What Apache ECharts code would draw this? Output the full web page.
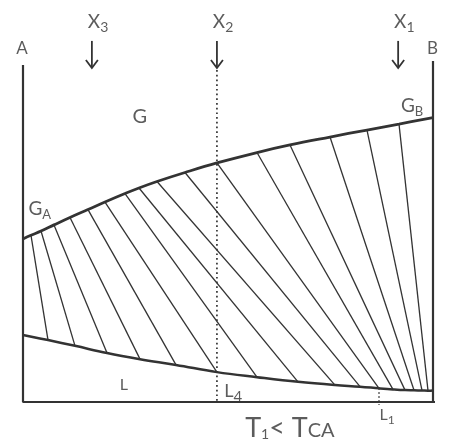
<!DOCTYPE html>
<html>
<head>
<meta charset="utf-8">
<script src="https://cdn.jsdelivr.net/npm/echarts@6/dist/echarts.min.js"></script>
<style>
  html, body { margin: 0; padding: 0; background: #fff; }
  #chart { width: 449px; height: 444px; }
</style>
</head>
<body>
<div id="chart"></div>
<script>
// Isothermal binary phase diagram (T1 < TcA): gas curve G, liquid curve L, tie lines.
// x: composition from pure A (0) to pure B (100); y: pressure (arbitrary units).

// Gas (dew) curve: end at A, tie-line endpoints, end at B
const gasX = [0, 1.95, 4.39, 7.56, 11.46, 15.85, 20.0, 24.88, 28.29, 32.68, 39.51, 47.3, 57.07, 65.12, 74.88, 83.9, 91.71, 100];
const gasY = [45.3, 46.3, 47.5, 49.2, 51.25, 53.45, 55.55, 57.9, 59.45, 61.25, 63.75, 66.4, 69.3, 71.4, 73.6, 75.55, 77.2, 79.0];

// Liquid (bubble) curve: end at A, tie-line endpoints, end at B
const liqX = [0, 6.10, 12.68, 20.49, 28.54, 37.32, 47.3, 57.07, 67.07, 76.10, 82.2, 86.83, 90.24, 93.17, 95.37, 97.32, 98.78, 100];
const liqY = [18.6, 17.2, 15.6, 13.6, 11.9, 10.3, 8.3, 6.9, 5.6, 4.7, 4.25, 3.8, 3.5, 3.3, 3.25, 3.2, 3.15, 3.2];

// Overall compositions marked with arrows
const markNames = ['X3', 'X2', 'X1'];
const markX = [16.8, 47.3, 91.5];

// Liquid composition L1
const l1X = 86.83;
const l1Y = 3.8;

const INK = '#333333';
const FONT = 'Lato, "Open Sans", sans-serif';

const gasData = gasX.map((x, i) => [x, gasY[i]]);
const liqData = liqX.map((x, i) => [x, liqY[i]]);
// tie lines join matching interior points of both curves
const tieData = [];
for (let i = 1; i < gasX.length - 1; i++) {
  tieData.push({ coords: [[gasX[i], gasY[i]], [liqX[i], liqY[i]]] });
}

function sub(main, s, mainSize, subSize) {
  return {
    formatter: '{m|' + main + '}{s|' + s + '}',
    rich: {
      m: { fontSize: mainSize, fontFamily: FONT, color: INK, lineHeight: mainSize + 2 },
      s: { fontSize: subSize, fontFamily: FONT, color: INK, padding: [Math.round(mainSize * 0.6), 0, 0, 0] }
    }
  };
}

function textPoint(x, y, label) {
  return {
    value: [x, y],
    label: Object.assign({ show: true, position: 'inside' }, label)
  };
}

const labels = [
  textPoint(-0.24, 98.3, { formatter: 'A', fontSize: 17, fontFamily: FONT, color: INK }),
  textPoint(99.9, 98.3, { formatter: 'B', fontSize: 17, fontFamily: FONT, color: INK }),
  textPoint(28.5, 79.2, { formatter: 'G', fontSize: 20, fontFamily: FONT, color: INK }),
  textPoint(94.9, 82.2, sub('G', 'B', 19, 13)),
  textPoint(4.1, 53.6, sub('G', 'A', 19, 13)),
  textPoint(24.6, 4.7, { formatter: 'L', fontSize: 16, fontFamily: FONT, color: INK }),
  textPoint(51.3, 3.0, sub('L', '4', 18, 15)),
  textPoint(88.8, -3.6, sub('L', '1', 16, 12)),
  textPoint(65.1, -7.2, {
    formatter: '{m|T}{s|1}{m|< T}{c|CA}',
    rich: {
      m: { fontSize: 27, fontFamily: FONT, color: INK, lineHeight: 28 },
      s: { fontSize: 14, fontFamily: FONT, color: INK, padding: [14, 0, 0, 0] },
      c: { fontSize: 20, fontFamily: FONT, color: INK, padding: [6, 0, 0, 0] }
    }
  })
];
markNames.forEach((n, i) => {
  labels.push(textPoint(markX[i] + 1.5, 105.6, sub(n[0], n.slice(1), 19, 14)));
});

const chart = echarts.init(document.getElementById('chart'), null, { renderer: 'canvas' });

chart.setOption({
  animation: false,
  backgroundColor: '#ffffff',
  grid: { left: 23, right: 16, top: 42, bottom: 42 },
  xAxis: { type: 'value', min: 0, max: 100, show: false },
  yAxis: { type: 'value', min: 0, max: 100, show: false },
  series: [
    // frame: A and B axes, base line
    {
      type: 'line', clip: false, symbol: 'none', silent: true,
      lineStyle: { color: INK, width: 2.2 },
      data: [[0, 93.6], [0, 0], [100.6, 0]]
    },
    {
      type: 'line', clip: false, symbol: 'none', silent: true,
      lineStyle: { color: INK, width: 2.2 },
      data: [[100, 94.7], [100, 0]]
    },
    // tie lines
    {
      type: 'lines', coordinateSystem: 'cartesian2d', silent: true,
      lineStyle: { color: INK, width: 1.3, opacity: 1 },
      data: tieData
    },
    // gas curve
    {
      type: 'line', smooth: 0.4, symbol: 'none', clip: false, silent: true,
      lineStyle: { color: INK, width: 2.8 },
      data: gasData
    },
    // liquid curve
    {
      type: 'line', smooth: 0.4, symbol: 'none', clip: false, silent: true,
      lineStyle: { color: INK, width: 2.5 },
      data: liqData
    },
    // dotted isopleth through X2
    {
      type: 'line', symbol: 'none', clip: false, silent: true,
      lineStyle: { color: INK, width: 1.7, type: [1.7, 3.0] },
      data: [[markX[1], 92.2], [markX[1], 0]]
    },
    // L1 marker
    {
      type: 'line', symbol: 'none', clip: false, silent: true,
      lineStyle: { color: INK, width: 1.5, type: [1.5, 2.5] },
      data: [[l1X, l1Y], [l1X, -0.8]]
    },
    // arrows above the compositions
    {
      type: 'custom', clip: false, silent: true,
      data: markX.map(x => [x]),
      renderItem: function (params, api) {
        const top = api.coord([api.value(0), 100.3]);
        const bot = api.coord([api.value(0), 92.8]);
        const style = { stroke: INK, lineWidth: 1.8, fill: null };
        return {
          type: 'group',
          children: [
            { type: 'line', shape: { x1: top[0], y1: top[1], x2: bot[0], y2: bot[1] }, style: style },
            { type: 'polyline', shape: { points: [[bot[0] - 6, bot[1] - 8], [bot[0], bot[1]], [bot[0] + 6, bot[1] - 8]] }, style: style }
          ]
        };
      }
    },
    // text labels
    {
      type: 'scatter', clip: false, silent: true,
      symbolSize: 1,
      itemStyle: { color: 'rgba(0,0,0,0)' },
      data: labels
    }
  ]
});
</script>
</body>
</html>
